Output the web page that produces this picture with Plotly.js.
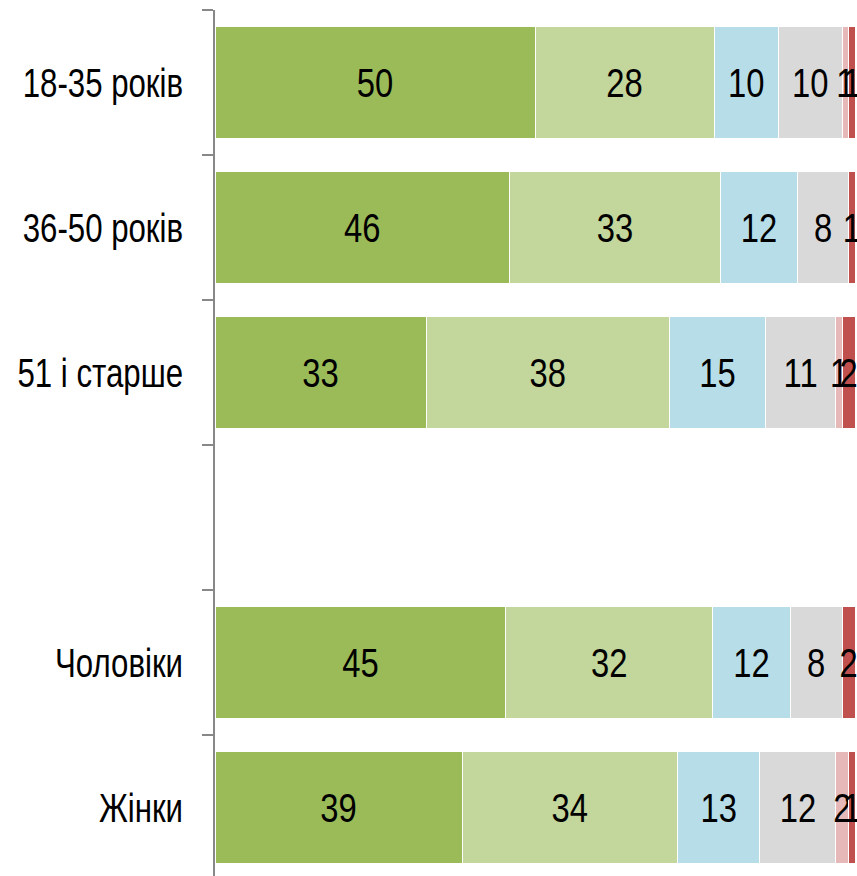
<!DOCTYPE html>
<html><head><meta charset="utf-8">
<script src="https://cdn.plot.ly/plotly-3.0.1.min.js"></script>
<style>html,body{margin:0;padding:0;background:#fff;}</style>
</head><body>
<div id="chart" style="width:857px;height:876px;"></div>
<script>
const categories = ['18-35 років', '36-50 років', '51 і старше', ' ', 'Чоловіки', 'Жінки'];
const s1 = [50, 46, 33, null, 45, 39];
const s2 = [28, 33, 38, null, 32, 34];
const s3 = [10, 12, 15, null, 12, 13];
const s4 = [10, 8, 11, null, 8, 12];
const s5 = [1, 0, 1, null, 0, 2];
const s6 = [1, 1, 2, null, 2, 1];
const series = [s1, s2, s3, s4, s5, s6];
const colors = ['#9BBB59', '#C3D69B', '#B7DEE8', '#D9D9D9', '#E6B9B8', '#C0504D'];
const FONT = '"Liberation Sans", Arial, sans-serif';

const traces = series.map((vals, i) => ({
  type: 'bar',
  orientation: 'h',
  y: categories,
  x: vals,
  text: vals.map(v => (v === null || v === 0) ? '' : String(v)),
  textposition: 'inside',
  insidetextanchor: 'middle',
  textangle: 0,
  cliponaxis: false,
  constraintext: 'none',
  textfont: {family: FONT, size: 40, color: '#000'},
  marker: {color: colors[i], line: {color: '#ffffff', width: 1}},
  hoverinfo: 'skip',
  showlegend: false
}));

const layout = {
  width: 857, height: 876,
  margin: {l: 215, r: 2, t: 10, b: 0},
  barmode: 'stack',
  barnorm: 'percent',
  bargap: 0.228,
  paper_bgcolor: '#fff', plot_bgcolor: '#fff',
  uniformtext: {mode: 'show', minsize: 40},
  xaxis: {range: [0, 100], visible: false, showgrid: false, zeroline: false, fixedrange: true},
  yaxis: {
    type: 'category',
    range: [5.4724, -0.5],
    showline: true, linecolor: '#888888', linewidth: 2,
    ticks: 'outside', tickson: 'boundaries', ticklen: 11, tickcolor: '#888888', tickwidth: 2,
    showgrid: false, zeroline: false,
    ticklabelstandoff: 22,
    tickfont: {family: FONT, size: 40, color: '#000'}
  }
};

function condense(nodes, s) {
  nodes.forEach(t => {
    const x = parseFloat(t.getAttribute('x')) || 0;
    const y = parseFloat(t.getAttribute('y')) || 0;
    const tr = t.getAttribute('transform') || '';
    t.setAttribute('transform', tr + ' translate(' + x + ' ' + y + ') scale(' + s + ' 1) translate(' + (-x) + ' ' + (-y) + ')');
  });
}

Plotly.newPlot('chart', traces, layout, {staticPlot: true, displayModeBar: false}).then(gd => {
  condense(gd.querySelectorAll('text.bartext'), 0.82);
  condense(gd.querySelectorAll('.ytick text'), 0.78);
});
</script>
</body></html>
